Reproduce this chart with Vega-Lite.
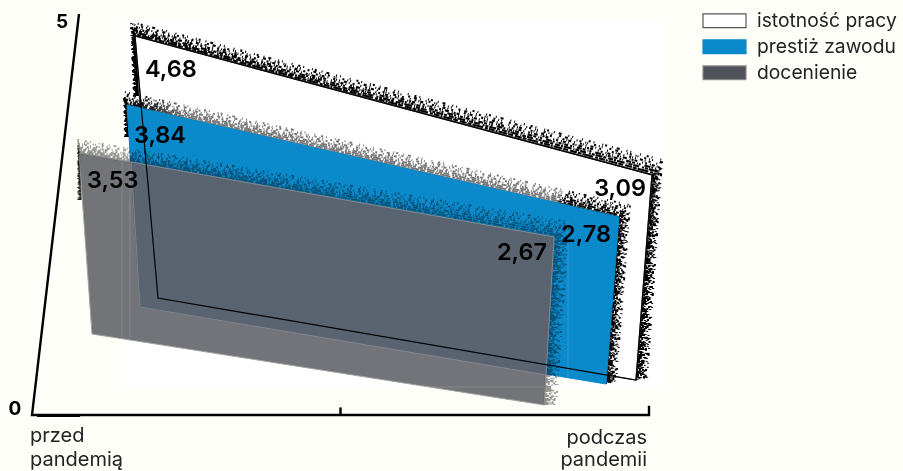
{
"$schema":"https://vega.github.io/schema/vega-lite/v6.json",
"width":903,"height":471,"padding":0,"autosize":{"type":"none"},
"background":"#fffffa",
"config":{"view":{"stroke":null}},
"datasets":{
"obrzeza":[
{"seria":"istotność pracy","punkt":0,"xa":17.18,"ya":3.972,"xb":16.53,"yb":3.972},
{"seria":"istotność pracy","punkt":1,"xa":16.69,"ya":4.724,"xb":16.05,"yb":4.9},
{"seria":"istotność pracy","punkt":2,"xa":100.49,"ya":2.982,"xb":102.11,"yb":3.17},
{"seria":"istotność pracy","punkt":3,"xa":97.89,"ya":0.4135,"xb":99.68,"yb":0.4386},
{"seria":"prestiż zawodu","punkt":0,"xa":15.72,"ya":3.459,"xb":15.07,"yb":3.459},
{"seria":"prestiż zawodu","punkt":1,"xa":15.4,"ya":3.86,"xb":14.91,"yb":4.023},
{"seria":"prestiż zawodu","punkt":2,"xa":95.14,"ya":2.456,"xb":96.92,"yb":2.606},
{"seria":"prestiż zawodu","punkt":3,"xa":93.03,"ya":0.3634,"xb":94.65,"yb":0.3885},
{"seria":"docenienie","punkt":0,"xa":7.94,"ya":2.669,"xb":7.46,"yb":2.669},
{"seria":"docenienie","punkt":1,"xa":7.62,"ya":3.258,"xb":7.46,"yb":3.421},
{"seria":"docenienie","punkt":2,"xa":84.6,"ya":2.206,"xb":87.03,"yb":2.393},
{"seria":"docenienie","punkt":3,"xa":82.98,"ya":0.1003,"xb":84.93,"yb":0.1003}
],
"nakladka":[
{"punkt":1,"x":16.05,"y":3.145},
{"punkt":2,"x":84.6,"y":2.206},
{"punkt":3,"x":83.31,"y":0.476},
{"punkt":4,"x":17.5,"y":1.328}
],
"slady":[
{"x":14.59,"x2":14.59,"y":3.17,"y2":0.95},
{"x":15.88,"x2":15.88,"y":3.13,"y2":0.94},
{"x":86.87,"x2":86.87,"y":2.39,"y2":0.44},
{"x":14.59,"x2":83.1,"y":0.326,"y2":0.326}
],
"osie":[
{"odcinek":"a","punkt":1,"x":7.62,"y":5},
{"odcinek":"a","punkt":2,"x":0,"y":-0.025},
{"odcinek":"a","punkt":3,"x":100,"y":-0.025},
{"odcinek":"a","punkt":4,"x":100,"y":0.09},
{"odcinek":"b","punkt":1,"x":0.8,"y":-0.035},
{"odcinek":"b","punkt":2,"x":7.8,"y":-0.035},
{"odcinek":"c","punkt":1,"x":50,"y":-0.025},
{"odcinek":"c","punkt":2,"x":50,"y":0.07}
],
"podpisy":[
{"tekst":"przed","x":-0.32,"y":-0.363,"strona":"L"},
{"tekst":"pandemią","x":-0.32,"y":-0.664,"strona":"L"},
{"tekst":"podczas","x":99.68,"y":-0.388,"strona":"R"},
{"tekst":"pandemii","x":99.68,"y":-0.664,"strona":"R"}
],
"podzialka":[
{"tekst":"5","x":4.86,"y":4.825},
{"tekst":"0","x":-2.755,"y":-0.025}
]
},
"data":{"values":[
{"seria":"istotność pracy","okres":"przed pandemią","punkt":1,"wartosc":4.68,"xp":20.42,"yp":1.441,"sx":-0.7965,"sy":0.7015},
{"seria":"istotność pracy","okres":"podczas pandemii","punkt":2,"wartosc":3.09,"xp":97.89,"yp":0.4135,"sx":0.8392,"sy":0.8314},
{"seria":"istotność pracy","okres":"podczas pandemii","punkt":3,"wartosc":0,"xp":97.89,"yp":0.4135,"sx":0.8392,"sy":0.8314},
{"seria":"istotność pracy","okres":"przed pandemią","punkt":4,"wartosc":0,"xp":20.42,"yp":1.441,"sx":-0.7965,"sy":0.7015},
{"seria":"prestiż zawodu","okres":"przed pandemią","punkt":1,"wartosc":3.84,"xp":17.5,"yp":1.328,"sx":-0.5487,"sy":0.6592},
{"seria":"prestiż zawodu","okres":"podczas pandemii","punkt":2,"wartosc":2.78,"xp":93.03,"yp":0.3634,"sx":0.7579,"sy":0.7528},
{"seria":"prestiż zawodu","okres":"podczas pandemii","punkt":3,"wartosc":0,"xp":93.03,"yp":0.3634,"sx":0.7579,"sy":0.7528},
{"seria":"prestiż zawodu","okres":"przed pandemią","punkt":4,"wartosc":0,"xp":17.5,"yp":1.328,"sx":-0.5487,"sy":0.6592},
{"seria":"docenienie","okres":"przed pandemią","punkt":1,"wartosc":3.53,"xp":9.724,"yp":0.99,"sx":-0.5969,"sy":0.6425},
{"seria":"docenienie","okres":"podczas pandemii","punkt":2,"wartosc":2.67,"xp":82.98,"yp":0.1003,"sx":0.607,"sy":0.7885},
{"seria":"docenienie","okres":"podczas pandemii","punkt":3,"wartosc":0,"xp":82.98,"yp":0.1003,"sx":0.607,"sy":0.7885},
{"seria":"docenienie","okres":"przed pandemią","punkt":4,"wartosc":0,"xp":9.724,"yp":0.99,"sx":-0.5969,"sy":0.6425}
]},
"transform":[
{"calculate":"datum.xp+datum.wartosc*datum.sx","as":"x"},
{"calculate":"datum.yp+datum.wartosc*datum.sy","as":"y"},
{"calculate":"replace(format(datum.wartosc,'.2f'),'.',',')","as":"etykieta"}
],
"encoding":{
"x":{"field":"x","type":"quantitative","axis":null,"scale":{"domain":[-5.186,141.167],"nice":false,"zero":false}},
"y":{"field":"y","type":"quantitative","axis":null,"scale":{"domain":[-0.7268,5.1754],"nice":false,"zero":false}}
},
"layer":[
{"data":{"values":[{"x":14.59,"x2":102.6,"y":0.313,"y2":4.925}]},
 "mark":{"type":"rect","fill":"#ffffff"},
 "encoding":{"x2":{"field":"x2"},"y2":{"field":"y2"}}},

{"data":{"name":"obrzeza"},
 "transform":[{"filter":"datum.seria==='istotność pracy'"},{"calculate":"[0,1,2,3,4,5,6,7]","as":"warstwy"},{"flatten":["warstwy"],"as":["warstwa"]},
  {"calculate":"datum.xa+(datum.xb-datum.xa)*datum.warstwa/7","as":"x"},{"calculate":"datum.ya+(datum.yb-datum.ya)*datum.warstwa/7","as":"y"}],
 "mark":{"type":"line","stroke":"#000000","strokeWidth":2.1},
 "encoding":{"order":{"field":"punkt"},
  "strokeDash":{"field":"warstwa","type":"ordinal","legend":null,"scale":{"domain":[0,1,2,3,4,5,6,7],"range":[[1,0],[7,1,4,1,11,2,3,1,6,1,2,1,9,1,5,2],[3,2,5,1,2,1,8,2,1,1,4,1,6,3,2,1,3,1,7,1],[1,1,4,2,2,1,1,3,5,1,3,2,1,1,2,4,6,1,2,2,1,1,3,1],[2,3,1,1,3,2,1,4,2,1,1,2,4,3,1,1,2,1,3,5,1,2],[1,4,2,2,1,1,3,3,1,5,2,1,1,2,1,4,3,2,1,3,2,6],[3,3,1,5,1,2,2,4,1,1,1,6,2,3,1,2,1,7,2,4],[1,6,2,3,1,8,1,2,2,5,1,4,3,7,1,3,1,9]]}}}},
{"transform":[{"filter":"datum.seria==='istotność pracy'"}],
 "mark":{"type":"line","interpolate":"linear-closed","strokeWidth":1.2},
 "encoding":{"order":{"field":"punkt"},
  "fill":{"field":"seria","type":"nominal","scale":{"domain":["istotność pracy","prestiż zawodu","docenienie"],"range":["#ffffff","#0a8acb","#4f5258"]},
   "legend":{"title":null,"orient":"none","legendX":702,"legendY":8,"symbolType":"M-1,-0.32H1V0.32H-1Z","symbolSize":1849,"symbolStrokeWidth":1.2,"clipHeight":25.6,"rowPadding":0,"labelOffset":10,"labelFont":"Inter","labelFontSize":19.3,"labelColor":"#222222","encode":{"symbols":{"update":{"opacity":{"value":1},"fillOpacity":{"value":1},"strokeOpacity":{"value":1}}}}}},
  "stroke":{"field":"seria","type":"nominal","scale":{"domain":["istotność pracy","prestiż zawodu","docenienie"],"range":["#555555","#0a8acb","#8a8a8a"]}}}},

{"data":{"name":"obrzeza"},
 "transform":[{"filter":"datum.seria==='prestiż zawodu'"},{"calculate":"[0,1,2,3,4,5,6,7]","as":"warstwy"},{"flatten":["warstwy"],"as":["warstwa"]},
  {"calculate":"datum.xa+(datum.xb-datum.xa)*datum.warstwa/7","as":"x"},{"calculate":"datum.ya+(datum.yb-datum.ya)*datum.warstwa/7","as":"y"}],
 "mark":{"type":"line","strokeWidth":1.9,"stroke":{"gradient":"linear","x1":0,"x2":1,"y1":0,"y2":0,"stops":[{"offset":0,"color":"#000000"},{"offset":0.05,"color":"#222222"},{"offset":0.12,"color":"#777777"},{"offset":0.872,"color":"#777777"},{"offset":0.878,"color":"#000000"},{"offset":1,"color":"#000000"}]}},
 "encoding":{"order":{"field":"punkt"},"strokeDash":{"field":"warstwa","type":"ordinal","legend":null}}},
{"transform":[{"filter":"datum.seria==='prestiż zawodu'"}],
 "mark":{"type":"line","interpolate":"linear-closed","strokeWidth":1},
 "encoding":{"order":{"field":"punkt"},"fill":{"field":"seria","type":"nominal"},"stroke":{"field":"seria","type":"nominal"}}},

{"data":{"name":"obrzeza"},
 "transform":[{"filter":"datum.seria==='docenienie'"},{"calculate":"[0,1,2,3,4,5,6,7]","as":"warstwy"},{"flatten":["warstwy"],"as":["warstwa"]},
  {"calculate":"datum.xa+(datum.xb-datum.xa)*datum.warstwa/7","as":"x"},{"calculate":"datum.ya+(datum.yb-datum.ya)*datum.warstwa/7","as":"y"}],
 "mark":{"type":"line","strokeWidth":1.9,"stroke":"#8c8c8c","blend":"multiply","opacity":0.9},
 "encoding":{"order":{"field":"punkt"},"strokeDash":{"field":"warstwa","type":"ordinal","legend":null}}},
{"transform":[{"filter":"datum.seria==='docenienie'"}],
 "mark":{"type":"line","interpolate":"linear-closed","strokeWidth":1,"opacity":0.8},
 "encoding":{"order":{"field":"punkt"},"fill":{"field":"seria","type":"nominal"},"stroke":{"field":"seria","type":"nominal"}}},
{"data":{"name":"nakladka"},
 "mark":{"type":"line","interpolate":"linear-closed","fill":"#596470","stroke":"#8a8f94","strokeWidth":0.8},
 "encoding":{"order":{"field":"punkt"}}},
{"data":{"name":"slady"},
 "mark":{"type":"rule","stroke":"#ffffff","opacity":0.14,"strokeWidth":1},
 "encoding":{"x2":{"field":"x2"},"y2":{"field":"y2"}}},

{"transform":[{"filter":"datum.seria==='istotność pracy'"}],
 "mark":{"type":"line","interpolate":"linear-closed","stroke":"#000000","strokeWidth":1.2},
 "encoding":{"order":{"field":"punkt"}}},

{"data":{"name":"osie"},
 "mark":{"type":"line","stroke":"#000000","strokeWidth":2.4},
 "encoding":{"order":{"field":"punkt"},"detail":{"field":"odcinek"}}},

{"data":{"name":"podpisy"},"transform":[{"filter":"datum.strona==='L'"}],
 "mark":{"type":"text","align":"left","baseline":"alphabetic","font":"Inter","fontSize":20,"fontWeight":400,"fill":"#222222"},
 "encoding":{"text":{"field":"tekst"}}},
{"data":{"name":"podpisy"},"transform":[{"filter":"datum.strona==='R'"}],
 "mark":{"type":"text","align":"right","baseline":"alphabetic","font":"Inter","fontSize":20,"fontWeight":400,"fill":"#222222"},
 "encoding":{"text":{"field":"tekst"}}},
{"data":{"name":"podzialka"},
 "mark":{"type":"text","align":"center","baseline":"alphabetic","font":"Inter","fontSize":19,"fontWeight":700,"fill":"#000000"},
 "encoding":{"text":{"field":"tekst"}}},

{"transform":[{"filter":"datum.wartosc===4.68"}],"mark":{"type":"text","align":"left","baseline":"alphabetic","font":"Inter","fontSize":23.5,"fontWeight":600,"fill":"#000000","dx":10,"dy":41},"encoding":{"text":{"field":"etykieta"}}},
{"transform":[{"filter":"datum.wartosc===3.84"}],"mark":{"type":"text","align":"left","baseline":"alphabetic","font":"Inter","fontSize":23.5,"fontWeight":600,"fill":"#000000","dx":7,"dy":38},"encoding":{"text":{"field":"etykieta"}}},
{"transform":[{"filter":"datum.wartosc===3.53"}],"mark":{"type":"text","align":"left","baseline":"alphabetic","font":"Inter","fontSize":23.5,"fontWeight":600,"fill":"#000000","dx":8,"dy":35},"encoding":{"text":{"field":"etykieta"}}},
{"transform":[{"filter":"datum.wartosc===3.09"}],"mark":{"type":"text","align":"right","baseline":"alphabetic","font":"Inter","fontSize":23.5,"fontWeight":600,"fill":"#000000","dx":-6,"dy":21},"encoding":{"text":{"field":"etykieta"}}},
{"transform":[{"filter":"datum.wartosc===2.78"}],"mark":{"type":"text","align":"right","baseline":"alphabetic","font":"Inter","fontSize":23.5,"fontWeight":600,"fill":"#000000","dx":-8,"dy":25},"encoding":{"text":{"field":"etykieta"}}},
{"transform":[{"filter":"datum.wartosc===2.67"}],"mark":{"type":"text","align":"right","baseline":"alphabetic","font":"Inter","fontSize":23.5,"fontWeight":600,"fill":"#000000","dx":-7,"dy":23},"encoding":{"text":{"field":"etykieta"}}}
]
}
